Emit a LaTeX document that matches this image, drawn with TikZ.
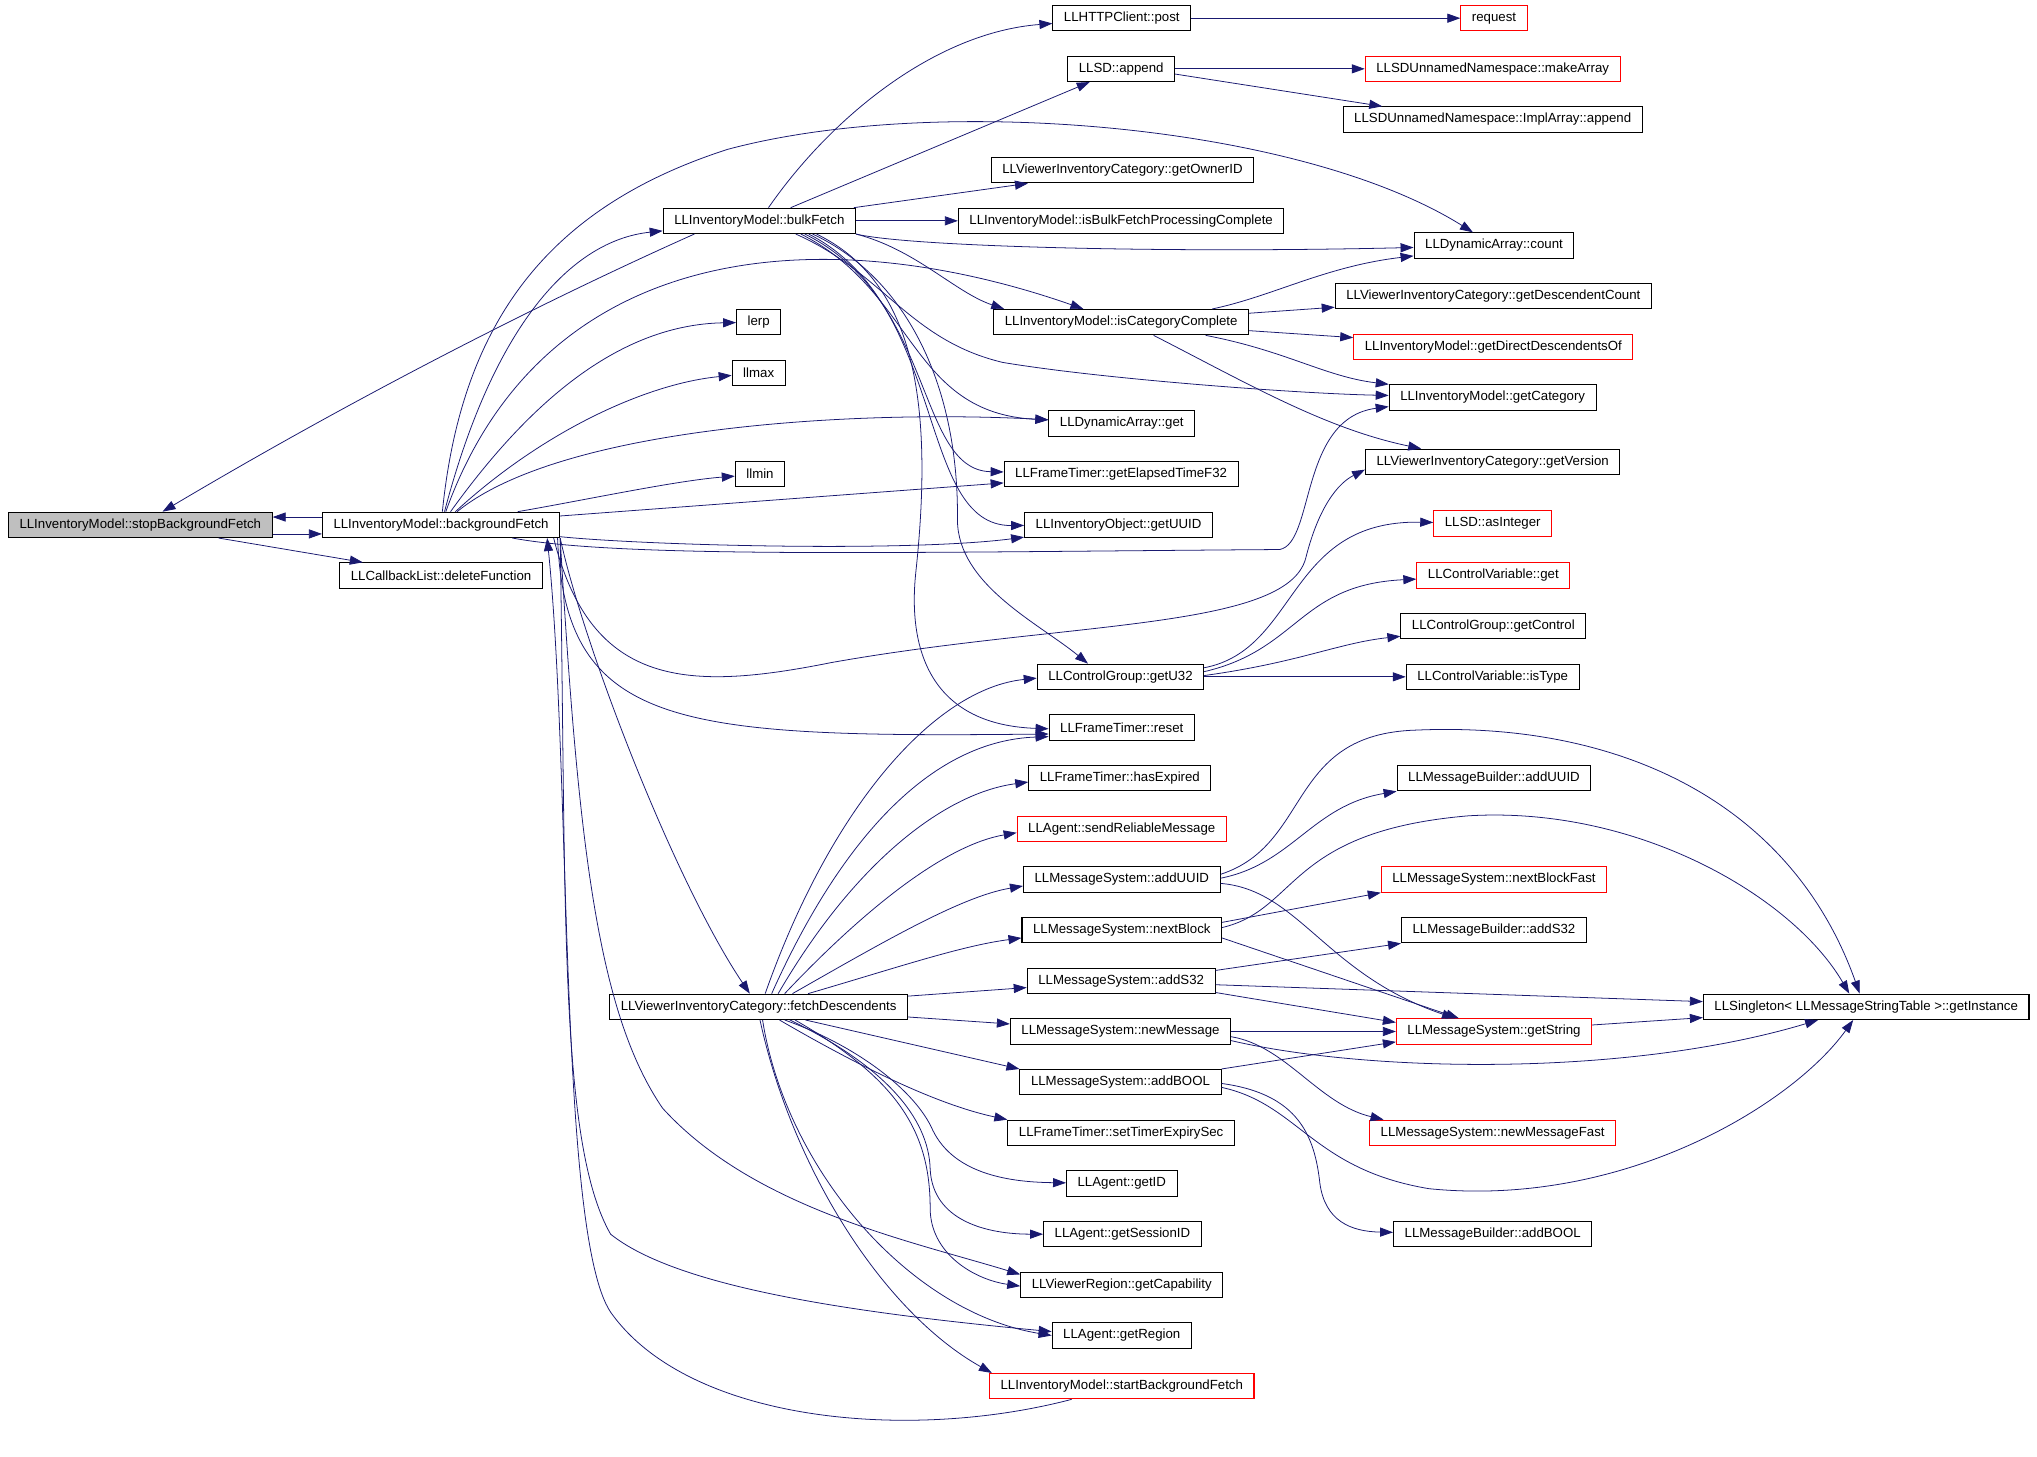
\documentclass[tikz,border=0pt]{standalone}
\usepackage{fontspec}
\setmainfont{Liberation Sans}
\usetikzlibrary{arrows.meta}
\definecolor{edgeblue}{RGB}{25,25,112}
\definecolor{boxgray}{RGB}{191,191,191}
\begin{document}
\begin{tikzpicture}[x=1pt, y=-1pt,
  fn/.style={draw, line width=0.8pt, minimum height=19.5pt, inner xsep=8.5pt, inner ysep=0pt, font=\fontsize{10.2}{12}\selectfont},
  undoc/.style={fn, draw=red},
  call/.style={draw=edgeblue, line width=0.6pt, -{Triangle[length=10pt,width=7pt]}}]
\useasboundingbox (0,0) rectangle (1568,1121);
\node[fn, fill=boxgray] (stop) at (108,404) {LLInventoryModel::stopBackgroundFetch};
\node[fn] (bg) at (339.5,404) {LLInventoryModel::backgroundFetch};
\node[fn] (del) at (339.5,443) {LLCallbackList::deleteFunction};
\node[fn] (bulk) at (584.5,170) {LLInventoryModel::bulkFetch};
\node[fn] (lerp) at (584,248) {lerp};
\node[fn] (llmax) at (584,287) {llmax};
\node[fn] (llmin) at (585,365) {llmin};
\node[fn] (fetch) at (584,775) {LLViewerInventoryCategory::fetchDescendents};
\node[fn] (post) at (863.5,14) {LLHTTPClient::post};
\node[fn] (append) at (863,53) {LLSD::append};
\node[fn] (ownerid) at (864,131) {LLViewerInventoryCategory::getOwnerID};
\node[fn] (isbulk) at (863,170) {LLInventoryModel::isBulkFetchProcessingComplete};
\node[fn] (iscat) at (863,248) {LLInventoryModel::isCategoryComplete};
\node[fn] (daget) at (863.5,326) {LLDynamicArray::get};
\node[fn] (elapsed) at (863,365) {LLFrameTimer::getElapsedTimeF32};
\node[fn] (uuid) at (861,404) {LLInventoryObject::getUUID};
\node[fn] (getu32) at (862.5,521) {LLControlGroup::getU32};
\node[fn] (reset) at (863.5,560) {LLFrameTimer::reset};
\node[fn] (hasexp) at (862,599) {LLFrameTimer::hasExpired};
\node[undoc] (sendrel) at (863.5,638) {LLAgent::sendReliableMessage};
\node[fn] (adduuid) at (863.5,677) {LLMessageSystem::addUUID};
\node[fn] (nextblock) at (863.5,716) {LLMessageSystem::nextBlock};
\node[fn] (adds32) at (863,755) {LLMessageSystem::addS32};
\node[fn] (newmsg) at (862.5,794) {LLMessageSystem::newMessage};
\node[fn] (addbool) at (862.5,833) {LLMessageSystem::addBOOL};
\node[fn] (settimer) at (863,872) {LLFrameTimer::setTimerExpirySec};
\node[fn] (getid) at (863.5,911) {LLAgent::getID};
\node[fn] (sessionid) at (864,950) {LLAgent::getSessionID};
\node[fn] (capab) at (863.5,989) {LLViewerRegion::getCapability};
\node[fn] (region) at (863.5,1028) {LLAgent::getRegion};
\node[undoc] (startbg) at (863.5,1067) {LLInventoryModel::startBackgroundFetch};
\node[undoc] (request) at (1150,14) {request};
\node[undoc] (makearr) at (1149,53) {LLSDUnnamedNamespace::makeArray};
\node[fn] (implappend) at (1149,92) {LLSDUnnamedNamespace::ImplArray::append};
\node[fn] (count) at (1150,189) {LLDynamicArray::count};
\node[fn] (desccount) at (1149.5,228) {LLViewerInventoryCategory::getDescendentCount};
\node[undoc] (directdesc) at (1149.5,267) {LLInventoryModel::getDirectDescendentsOf};
\node[fn] (getcat) at (1149,306) {LLInventoryModel::getCategory};
\node[fn] (getver) at (1149,355.5) {LLViewerInventoryCategory::getVersion};
\node[undoc] (asint) at (1149,403) {LLSD::asInteger};
\node[undoc] (cvget) at (1149.5,443) {LLControlVariable::get};
\node[fn] (getctl) at (1149.5,482) {LLControlGroup::getControl};
\node[fn] (istype) at (1149,521) {LLControlVariable::isType};
\node[fn] (mbuuid) at (1150,599) {LLMessageBuilder::addUUID};
\node[undoc] (nbfast) at (1150,677) {LLMessageSystem::nextBlockFast};
\node[fn] (mbs32) at (1150,716) {LLMessageBuilder::addS32};
\node[undoc] (getstr) at (1150,794) {LLMessageSystem::getString};
\node[undoc] (nmfast) at (1149,872) {LLMessageSystem::newMessageFast};
\node[fn] (mbbool) at (1149,950) {LLMessageBuilder::addBOOL};
\node[fn] (instance) at (1436.5,775) {LLSingleton< LLMessageStringTable >::getInstance};

\draw[call] ([yshift=6pt]bg.west) -- ([yshift=6pt]stop.east);
\draw[call] ([yshift=-7pt]stop.east) -- ([yshift=-7pt]bg.west);
\draw[call] (stop) -- (del);
\draw[call] ([xshift=-50pt]bulk.south) .. controls (405,238) and (263,312) .. (stop);
\draw[call] (bg) .. controls (380,250) and (440,185) .. (bulk);
\draw[call] (bg) .. controls (355,250) and (420,160) .. (560,115) .. controls (720,72) and (1000,95) .. (count);
\draw[call] (bg) .. controls (420,180) and (640,170) .. (iscat);
\draw[call] (bg) .. controls (400,320) and (470,250) .. (lerp);
\draw[call] (bg) .. controls (420,330) and (500,295) .. (llmax);
\draw[call] (bg) .. controls (430,330) and (650,315) .. (daget);
\draw[call] (bg) .. controls (450,385) and (520,370) .. (llmin);
\draw[call] (bg) -- (elapsed);
\draw[call] (bg) .. controls (500,420) and (700,425) .. (uuid);
\draw[call] (bg) .. controls (480,430) and (700,425) .. (985,423) .. controls (1012,418) and (1000,322) .. ([yshift=-7pt]getcat.west);
\draw[call] ([xshift=-5pt]bg.south east) .. controls (455,530) and (530,532) .. (640,510) .. controls (820,478) and (990,485) .. (1005,430) .. controls (1015,390) and (1030,372) .. ([yshift=-6pt]getver.west);
\draw[call] ([xshift=-2pt]bg.south east) .. controls (435,560) and (520,568) .. ([yshift=-5pt]reset.west);
\draw[call] (bg.south east) .. controls (450,500) and (520,680) .. (fetch);
\draw[call] (bg.south east) .. controls (445,650) and (460,780) .. (510,853) .. controls (580,930) and (700,955) .. ([yshift=8pt]capab.west);
\draw[call] (bg.south east) .. controls (436,700) and (430,880) .. (470,950) .. controls (520,990) and (650,1010) .. ([yshift=3pt]region.west);
\draw[call] (startbg) .. controls (700,1110) and (530,1095) .. (470,1010) .. controls (430,950) and (440,600) .. ([xshift=-10pt]bg.south east);

\draw[call] (bulk) .. controls (640,90) and (720,25) .. (post);
\draw[call] (bulk) -- (append);
\draw[call] (bulk) -- (ownerid);
\draw[call] (bulk) -- (isbulk);
\draw[call] (bulk.south east) .. controls (700,190) and (900,195) .. (count);
\draw[call] (bulk.south east) .. controls (705,192) and (735,225) .. ([xshift=-90pt]iscat.north);
\draw[call] ([xshift=28pt]bulk.south) .. controls (680,210) and (700,262) .. (772,279) .. controls (850,292) and (1000,303) .. (getcat);
\draw[call] ([xshift=32pt]bulk.south) .. controls (705,225) and (700,318) .. (daget);
\draw[call] ([xshift=35pt]bulk.south) .. controls (720,230) and (705,362) .. (elapsed);
\draw[call] ([xshift=38pt]bulk.south) .. controls (730,235) and (705,405) .. (uuid);
\draw[call] ([xshift=41pt]bulk.south) .. controls (700,215) and (738,300) .. (737,400) .. controls (737,450) and (800,480) .. ([xshift=-25pt]getu32.north);
\draw[call] ([xshift=44pt]bulk.south) .. controls (700,215) and (720,300) .. (705,440) .. controls (698,505) and (720,558) .. ([yshift=-1pt]reset.west);

\draw[call] ([xshift=5pt]fetch.north) .. controls (640,620) and (720,530) .. ([yshift=-1pt]getu32.west);
\draw[call] ([xshift=10pt]fetch.north) .. controls (650,640) and (720,570) .. ([yshift=-7pt]reset.west);
\draw[call] ([xshift=15pt]fetch.north) .. controls (660,660) and (730,610) .. ([yshift=-3pt]hasexp.west);
\draw[call] ([xshift=20pt]fetch.north) .. controls (670,695) and (730,650) .. ([yshift=-3pt]sendrel.west);
\draw[call] ([xshift=26pt]fetch.north) .. controls (680,725) and (740,690) .. ([yshift=-5pt]adduuid.west);
\draw[call] ([xshift=38pt]fetch.north) .. controls (690,745) and (740,728) .. ([yshift=-6pt]nextblock.west);
\draw[call] (fetch) -- (adds32);
\draw[call] (fetch) -- (newmsg);
\draw[call] ([xshift=36pt]fetch.south) -- (addbool.north west);
\draw[call] ([xshift=16pt]fetch.south) .. controls (660,820) and (720,850) .. (settimer.north west);
\draw[call] ([xshift=20pt]fetch.south) .. controls (660,805) and (705,840) .. (718,870) .. controls (735,905) and (780,910) .. (getid);
\draw[call] ([xshift=24pt]fetch.south) .. controls (680,820) and (715,860) .. (716,900) .. controls (718,940) and (760,950) .. (sessionid);
\draw[call] ([xshift=28pt]fetch.south) .. controls (690,830) and (716,870) .. (716,930) .. controls (716,965) and (750,985) .. ([yshift=-1pt]capab.west);
\draw[call] ([xshift=3pt]fetch.south) .. controls (605,900) and (700,1010) .. (region.west);
\draw[call] ([xshift=1pt]fetch.south) .. controls (610,900) and (680,1010) .. ([xshift=-100pt]startbg.north);

\draw[call] ([yshift=7pt]getu32.east) .. controls (1000,500) and (990,400) .. (asint);
\draw[call] ([yshift=4pt]getu32.east) .. controls (1000,500) and (1000,450) .. (cvget);
\draw[call] ([yshift=1pt]getu32.east) .. controls (1000,510) and (1030,495) .. (getctl);
\draw[call] (getu32) -- (istype);

\draw[call] ([xshift=70pt]iscat.north) .. controls (980,228) and (1020,205) .. ([yshift=-8pt]count.west);
\draw[call] (iscat) -- (desccount);
\draw[call] (iscat) -- (directdesc);
\draw[call] ([xshift=65pt]iscat.south) .. controls (990,270) and (1020,290) .. ([xshift=-80pt]getcat.north);
\draw[call] ([xshift=25pt]iscat.south) .. controls (960,295) and (1020,330) .. ([xshift=-55pt]getver.north);

\draw[call] (post) -- (request);
\draw[call] (append) -- (makearr);
\draw[call] ([yshift=-4pt]append.east) -- ([xshift=-85pt]implappend.north);

\draw[call] ([yshift=4pt]adduuid.east) .. controls (1010,650) and (990,565) .. (1090,562) .. controls (1250,555) and (1380,620) .. ([xshift=-5pt]instance.north);
\draw[call] ([yshift=1pt]adduuid.east) .. controls (995,665) and (1010,620) .. (mbuuid.south west);
\draw[call] ([yshift=-3pt]adduuid.east) .. controls (1000,685) and (1020,750) .. ([xshift=-30pt]getstr.north);
\draw[call] ([yshift=-6pt]nextblock.east) -- ([xshift=-27pt]getstr.north);
\draw[call] ([yshift=6pt]nextblock.east) -- (nbfast.south west);
\draw[call] ([yshift=2pt]nextblock.east) .. controls (1000,700) and (990,640) .. (1130,628) .. controls (1260,620) and (1380,690) .. ([xshift=-13pt]instance.north);
\draw[call] ([yshift=8pt]adds32.east) -- (mbs32.south west);
\draw[call] ([yshift=-3pt]adds32.east) -- ([yshift=4pt]instance.west);
\draw[call] ([yshift=-9pt]adds32.east) -- ([yshift=7pt]getstr.west);
\draw[call] (newmsg) -- (getstr);
\draw[call] ([yshift=-4pt]newmsg.east) .. controls (990,805) and (1015,850) .. ([xshift=-84pt]nmfast.north);
\draw[call] ([yshift=-7pt]newmsg.east) .. controls (1050,825) and (1250,830) .. ([xshift=-37pt]instance.south);
\draw[call] (addbool.north east) -- ([yshift=-8pt]getstr.west);
\draw[call] ([yshift=-1pt]addbool.east) .. controls (1000,842) and (1012,875) .. (1016,911) .. controls (1020,940) and (1040,948) .. (mbbool);
\draw[call] ([yshift=-4pt]addbool.east) .. controls (1000,850) and (1010,900) .. (1100,915) .. controls (1250,930) and (1380,850) .. ([xshift=-10pt]instance.south);
\draw[call] (getstr) -- (instance);
\end{tikzpicture}
\end{document}
